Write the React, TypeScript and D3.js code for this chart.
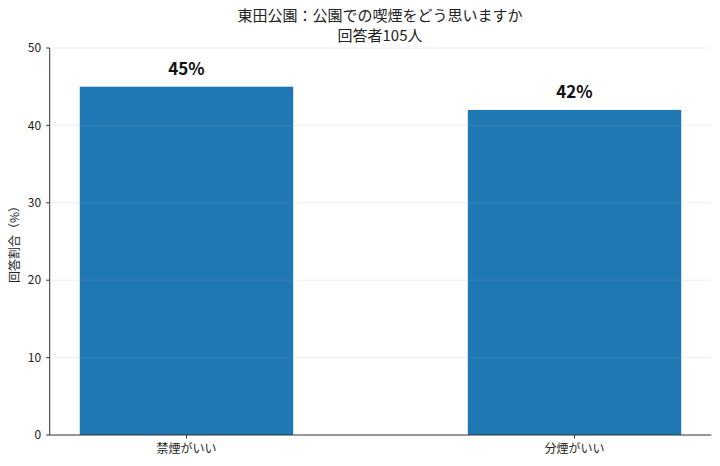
import React from "react";
import * as d3 from "d3";

const categories = ["禁煙がいい", "分煙がいい"];
const values = [45, 42];
const valueLabels = ["45%", "42%"];
const yTicks = [0, 10, 20, 30, 40, 50];
const title1 = "東田公園：公園での喫煙をどう思いますか";
const title2 = "回答者105人";
const yLabel = "回答割合（%）";

const W = 720, H = 466;
const FONT = "'Noto Sans CJK JP', 'Noto Sans', sans-serif";

export default function App() {
  const x = d3.scaleLinear().domain([-0.3525, 1.3525]).range([49.7, 711.3]);
  const y = d3.scaleLinear().domain([0, 50]).range([435, 48]);
  const bw = x(0.275) - x(-0.275);
  return (
    <svg width={W} height={H} style={{ position: "absolute", left: 0, top: 0, background: "#fff" }} fontFamily={FONT}>
      <text x={380} y={21} textAnchor="middle" fontSize={15} fill="#222">{title1}</text>
      <text x={380} y={41} textAnchor="middle" fontSize={15} fill="#222">{title2}</text>
      {values.map((v, i) => (
        <rect key={i} x={x(i) - bw / 2} y={y(v)} width={bw} height={y(0) - y(v)} fill="#1f77b4" />
      ))}
      {yTicks.filter(t => t > 0).map(t => (
        <line key={t} x1={x.range()[0]} x2={x.range()[1]} y1={y(t)} y2={y(t)} stroke="#b0b0b0" strokeOpacity={0.25} strokeWidth={0.8} />
      ))}
      {values.map((v, i) => (
        <text key={i} x={x(i)} y={y(v) - 12} textAnchor="middle" fontSize={17} fontWeight="bold" fill="#111">{valueLabels[i]}</text>
      ))}
      <line x1={x.range()[0]} x2={x.range()[0]} y1={y(50)} y2={y(0)} stroke="#333" strokeWidth={1} />
      <line x1={x.range()[0]} x2={x.range()[1]} y1={y(0)} y2={y(0)} stroke="#333" strokeWidth={1} />
      {yTicks.map(t => (
        <g key={t}>
          <line x1={x.range()[0] - 3.5} x2={x.range()[0]} y1={y(t)} y2={y(t)} stroke="#333" />
          <text x={x.range()[0] - 8.5} y={y(t)} dy="0.35em" textAnchor="end" fontSize={12} fill="#222">{t}</text>
        </g>
      ))}
      {categories.map((c, i) => (
        <g key={c}>
          <line x1={x(i)} x2={x(i)} y1={y(0)} y2={y(0) + 3.5} stroke="#333" />
          <text x={x(i)} y={y(0) + 18} textAnchor="middle" fontSize={12} fill="#222">{c}</text>
        </g>
      ))}
      <text transform={`translate(19, ${(y(0) + y(50)) / 2}) rotate(-90)`} textAnchor="middle" fontSize={12} fill="#222">{yLabel}</text>
    </svg>
  );
}
